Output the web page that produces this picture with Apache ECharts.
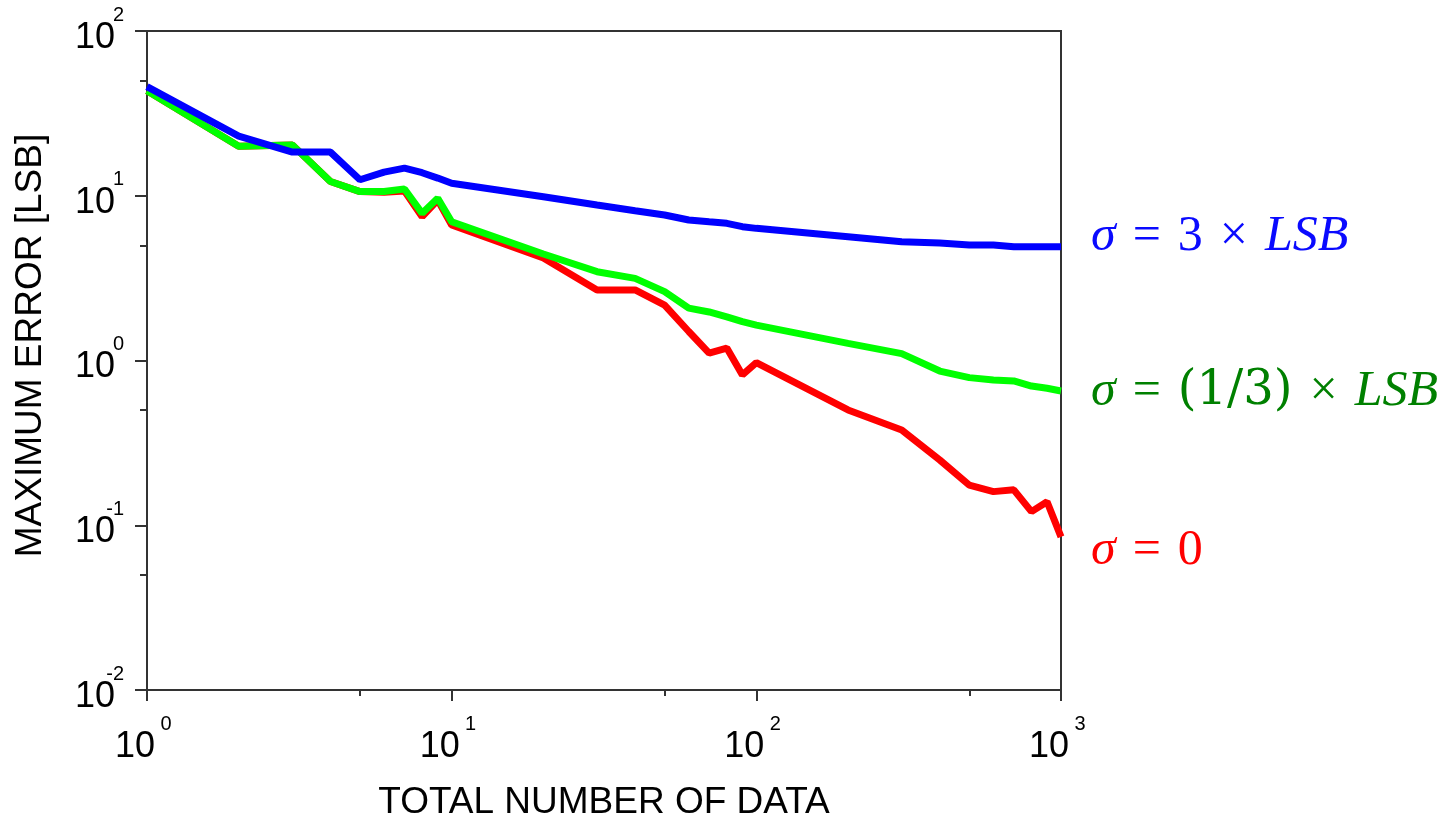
<!DOCTYPE html>
<html>
<head>
<meta charset="utf-8">
<title>Maximum error vs total number of data</title>
<script src="https://cdn.jsdelivr.net/npm/echarts@6/dist/echarts.min.js"></script>
<style>
  html, body { margin: 0; padding: 0; background: #ffffff; }
  #chart { width: 1451px; height: 820px; }
</style>
</head>
<body>
<div id="chart"></div>
<script>
// Total number of data points averaged (x)
const totalData = [1, 2, 3, 4, 5, 6, 7, 8, 9, 10,
                   20, 30, 40, 50, 60, 70, 80, 90, 100,
                   200, 300, 400, 500, 600, 700, 800, 900, 1000];

// Maximum error [LSB] for each noise level
const errSigma3 = [46, 23.0, 18.4, 18.4, 12.5, 13.9, 14.7, 13.8, 12.8, 11.9,
                   9.87, 8.79, 8.11, 7.64, 7.13, 6.95, 6.80, 6.49, 6.34,
                   5.64, 5.26, 5.16, 5.02, 5.02, 4.91, 4.91, 4.91, 4.91];

const errSigmaThird = [43.4, 20.0, 20.3, 12.2, 10.6, 10.6, 11.0, 7.82, 9.66, 6.96,
                       4.43, 3.46, 3.15, 2.62, 2.08, 1.97, 1.84, 1.72, 1.64,
                       1.27, 1.10, 0.863, 0.787, 0.762, 0.751, 0.700, 0.678, 0.653];

const errSigma0 = [43.4, 20.0, 20.3, 12.2, 10.6, 10.5, 10.7, 7.46, 9.42, 6.64,
                   4.19, 2.68, 2.68, 2.17, 1.50, 1.11, 1.19, 0.817, 0.970,
                   0.501, 0.379, 0.249, 0.175, 0.160, 0.164, 0.121, 0.139, 0.085];

// Decade exponents shown as superscripts next to the "10" tick labels
const xExponents = [0, 1, 2, 3];
const yExponents = [-2, -1, 0, 1, 2];

// Minor tick positions (the "5" of every decade)
const xMinorTicks = [5, 50, 500];
const yMinorTicks = [0.05, 0.5, 5, 50];

const seriesColors = ['#ff0000', '#00ff00', '#0000ff'];
const labelColors = ['#ff0000', '#008000', '#0a0aff'];
const seriesLabels = [
  '{s|σ}{o|=}{n|0}',
  '{s|σ}{o|=}{m|(1/3)}{o|×}{v|LSB}',
  '{s|σ}{o|=}{n|3}{o|×}{v|LSB}'
];
const seriesValues = [errSigma0, errSigmaThird, errSigma3];
const labelShift = [14, 1, -10];

const axisColor = '#333333';
const sansFont = '"Liberation Sans", Arial, sans-serif';
const serifFont = '"Liberation Serif", serif';
const digitFont = '"DejaVu Serif", "Liberation Serif", serif';

function mathRich(color) {
  const base = { fontFamily: serifFont, fontSize: 50, color: color };
  return {
    s: Object.assign({}, base, { fontStyle: 'italic' }),
    o: Object.assign({}, base, { padding: [0, 17, 0, 17] }),
    n: Object.assign({}, base),
    m: Object.assign({}, base, { fontFamily: digitFont, fontSize: 48 }),
    v: Object.assign({}, base, { fontStyle: 'italic' })
  };
}

const chart = echarts.init(document.getElementById('chart'), null, { renderer: 'canvas' });

const series = seriesValues.map((vals, i) => ({
  type: 'line',
  xAxisIndex: 0,
  yAxisIndex: 0,
  data: totalData.map((n, k) => [n, vals[k]]),
  showSymbol: false,
  symbol: 'none',
  z: 3 + i,
  lineStyle: { color: seriesColors[i], width: 7 },
  itemStyle: { color: seriesColors[i] },
  emphasis: { disabled: true },
  endLabel: {
    show: true,
    distance: 30,
    offset: [0, labelShift[i]],
    formatter: () => seriesLabels[i],
    rich: mathRich(labelColors[i])
  }
}));

const tickLine = { color: axisColor, width: 2 };

chart.setOption({
  animation: false,
  backgroundColor: '#ffffff',
  grid: {
    left: 147, right: 390, top: 31, bottom: 130,
    containLabel: false,
    outerBoundsMode: 'none',
    show: true, borderColor: axisColor, borderWidth: 2, backgroundColor: '#ffffff'
  },
  xAxis: [
    {
      // main log axis: series scale, major ticks and the "10" labels
      type: 'log', logBase: 10, min: 1, max: 1000,
      name: 'TOTAL NUMBER OF DATA',
      nameLocation: 'middle', nameGap: 94,
      nameTextStyle: { fontFamily: sansFont, fontSize: 37, color: '#000' },
      axisLine: { show: true, onZero: false, lineStyle: { color: axisColor, width: 2 } },
      axisTick: { show: true, inside: false, length: 11, lineStyle: tickLine },
      minorTick: { show: false },
      splitLine: { show: false },
      axisLabel: {
        margin: 39, formatter: () => '10', hideOverlap: false,
        fontFamily: sansFont, fontSize: 36, lineHeight: 36, color: '#000',
        padding: [0, 24, 0, 0]
      }
    },
    {
      // exponent of the decade: minor ticks and superscripts
      type: 'value', min: 0, max: 3, position: 'bottom',
      axisLine: { show: false, onZero: false },
      axisTick: { show: true, length: 6, customValues: xMinorTicks.map(v => Math.log10(v)), lineStyle: tickLine },
      axisLabel: {
        show: true, customValues: xExponents, formatter: v => String(v), hideOverlap: false,
        margin: 24, fontFamily: sansFont, fontSize: 20, lineHeight: 20, color: '#000',
        padding: [0, 0, 0, 38]
      },
      splitLine: { show: false }
    }
  ],
  yAxis: [
    {
      type: 'log', logBase: 10, min: 0.01, max: 100,
      name: 'MAXIMUM ERROR [LSB]',
      nameLocation: 'middle', nameGap: 98, nameRotate: 90,
      nameTextStyle: { fontFamily: sansFont, fontSize: 37, color: '#000', padding: [0, 0, 0, 30] },
      axisLine: { show: true, onZero: false, lineStyle: { color: axisColor, width: 2 } },
      axisTick: { show: true, inside: false, length: 12, lineStyle: tickLine },
      minorTick: { show: false },
      splitLine: { show: false },
      axisLabel: {
        margin: 32, formatter: () => '10', hideOverlap: false,
        fontFamily: sansFont, fontSize: 36, lineHeight: 14, color: '#000',
        verticalAlign: 'top'
      }
    },
    {
      type: 'value', min: -2, max: 2, position: 'left',
      axisLine: { show: false, onZero: false },
      axisTick: { show: true, length: 7, customValues: yMinorTicks.map(v => Math.log10(v)), lineStyle: tickLine },
      axisLabel: {
        show: true, customValues: yExponents, formatter: v => String(v), hideOverlap: false,
        margin: 23, fontFamily: sansFont, fontSize: 20, lineHeight: 32, color: '#000',
        verticalAlign: 'bottom'
      },
      splitLine: { show: false }
    }
  ],
  series: series
});
</script>
</body>
</html>
